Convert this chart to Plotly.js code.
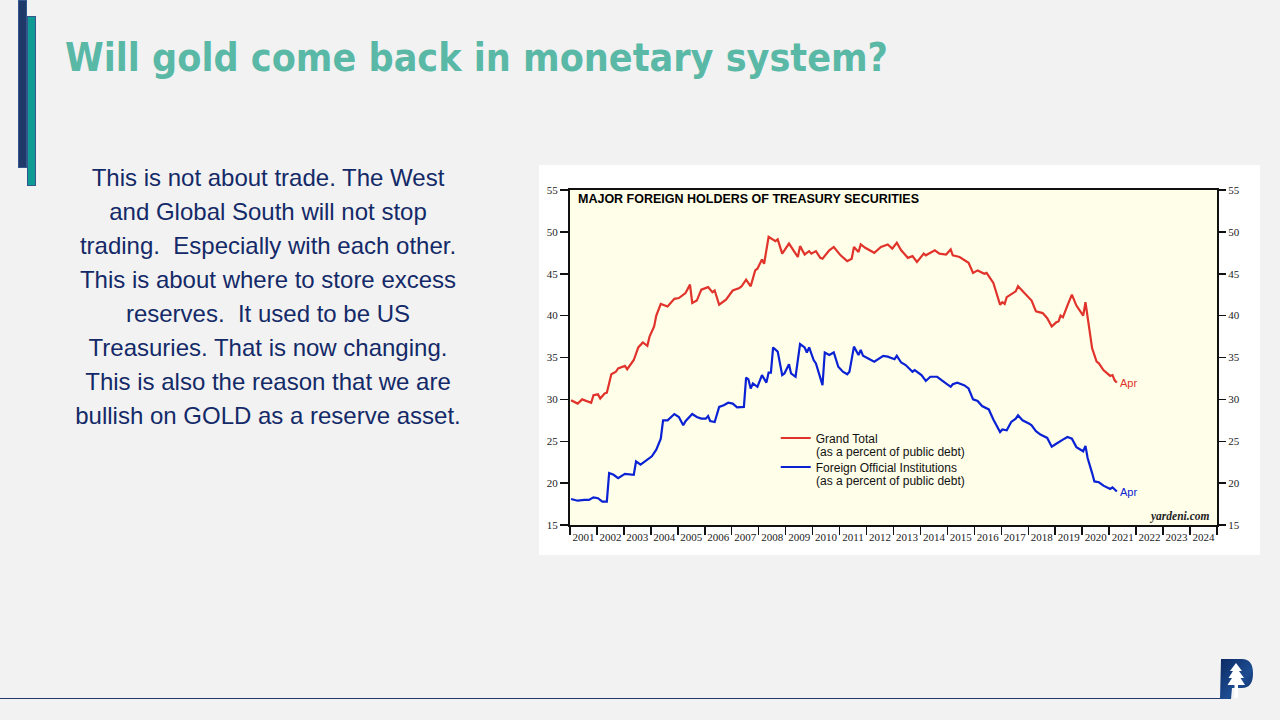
<!DOCTYPE html>
<html><head><meta charset="utf-8">
<script src="https://cdn.plot.ly/plotly-3.0.1.min.js"></script>
<style>
html,body{margin:0;padding:0;}
body{width:1280px;height:720px;background:#f2f2f2;position:relative;overflow:hidden;font-family:"Liberation Sans",Arial,sans-serif;}
#bar1{position:absolute;left:18px;top:0;width:7px;height:166px;background:#1f3a68;border:1px solid #34568e;}
#bar2{position:absolute;left:27px;top:16px;width:7px;height:168px;background:#0f9a93;border:1px solid #34568e;}
#title{position:absolute;left:65px;top:35px;font-family:"DejaVu Sans",sans-serif;font-weight:bold;font-size:39px;color:#5ab8a6;white-space:nowrap;transform-origin:0 0;}
#para{position:absolute;left:48px;width:440px;top:161px;text-align:center;font-size:24px;line-height:34px;color:#142a68;white-space:pre;}
#chart{position:absolute;left:539px;top:165px;width:721px;height:390px;background:#fff;}
#hr{position:absolute;left:0;top:698px;width:1222px;height:1px;background:#1f3a68;}
#logo{position:absolute;left:1218px;top:657px;}
</style></head>
<body>
<div id="bar1"></div><div id="bar2"></div>
<div id="title">Will gold come back in monetary system?</div>
<div id="para">This is not about trade. The West
and Global South will not stop
trading.  Especially with each other.
This is about where to store excess
reserves.  It used to be US
Treasuries. That is now changing.
This is also the reason that we are
bullish on GOLD as a reserve asset.</div>
<div id="chart"></div>
<div id="hr"></div>
<svg id="logo" width="40" height="44" viewBox="0 0 40 44">
<defs><linearGradient id="lg" x1="0" y1="0" x2="1" y2="1"><stop offset="0" stop-color="#0c2a63"/><stop offset="0.6" stop-color="#1d4c91"/><stop offset="1" stop-color="#0c2a63"/></linearGradient></defs>
<path d="M3,2 L24,2 Q35,2 35,16.5 Q35,31 24,31 L14,31 L13,42 L2,42 Z" fill="url(#lg)"/>
<path d="M18,6 L24,14 L21,14 L26,21 L22.5,21 L27,28 L20,28 L20,41 L16.5,41 L16.5,28 L9.5,28 L14,21 L10.5,21 L15,14 L12,14 Z" fill="#ffffff"/>
</svg>
<script>
// ---- data (percent of public debt) ----
const gtDates = ["2001-01","2001-04","2001-06","2001-10","2001-11","2002-01","2002-02","2002-04","2002-05","2002-07","2002-09","2002-10","2003-01","2003-02","2003-05","2003-07","2003-09","2003-11","2003-12","2004-02","2004-03","2004-05","2004-08","2004-11","2005-01","2005-04","2005-06","2005-07","2005-09","2005-11","2006-02","2006-04","2006-05","2006-07","2006-10","2007-01","2007-04","2007-05","2007-07","2007-09","2007-11","2007-12","2008-02","2008-03","2008-05","2008-08","2008-09","2008-11","2009-02","2009-06","2009-07","2009-09","2009-11","2009-12","2010-02","2010-04","2010-05","2010-08","2010-10","2011-01","2011-04","2011-06","2011-07","2011-09","2011-10","2011-12","2012-04","2012-07","2012-10","2012-12","2013-02","2013-04","2013-07","2013-09","2013-11","2014-02","2014-03","2014-06","2014-07","2014-09","2014-12","2015-02","2015-03","2015-06","2015-08","2015-10","2015-12","2016-02","2016-05","2016-06","2016-09","2016-12","2017-01","2017-02","2017-03","2017-07","2017-08","2017-10","2018-01","2018-02","2018-04","2018-07","2018-09","2018-11","2019-01","2019-02","2019-03","2019-04","2019-06","2019-08","2019-10","2020-01","2020-02","2020-04","2020-05","2020-07","2020-08","2020-10","2021-01","2021-02","2021-03","2021-04"];
const gtValues = [29.9,29.5,30.0,29.6,30.5,30.6,30.1,30.7,30.8,33.0,33.3,33.7,34.0,33.6,34.7,36.2,36.8,36.4,37.5,38.7,40.0,41.4,41.1,42.0,42.1,42.7,43.7,41.5,41.8,43.1,43.4,42.8,43.0,41.3,41.9,43.0,43.3,43.5,44.3,43.5,45.4,45.6,46.7,46.2,49.4,48.9,49.1,47.4,48.6,47.0,48.3,47.3,47.7,47.4,47.7,46.9,46.8,47.8,48.2,47.2,46.5,46.8,48.2,47.6,48.5,48.1,47.5,48.2,48.5,48.0,48.7,47.8,46.9,47.1,46.4,47.4,47.2,47.7,47.8,47.4,47.3,47.9,47.2,47.0,46.6,46.3,45.1,45.4,45.0,45.1,43.9,41.3,41.6,41.4,42.2,42.9,43.5,42.9,42.1,41.8,40.5,40.3,39.7,38.7,39.2,39.3,40.0,39.8,41.2,42.5,41.2,40.0,41.6,38.3,36.1,34.5,34.3,33.5,32.8,32.9,32.3,32.0];
const foDates = ["2001-01","2001-04","2001-07","2001-09","2001-11","2002-01","2002-03","2002-05","2002-06","2002-08","2002-10","2003-01","2003-05","2003-06","2003-08","2003-10","2004-01","2004-03","2004-04","2004-05","2004-06","2004-08","2004-11","2005-01","2005-03","2005-04","2005-07","2005-09","2005-11","2006-01","2006-02","2006-03","2006-05","2006-07","2006-09","2006-11","2007-01","2007-03","2007-06","2007-07","2007-08","2007-09","2007-10","2007-12","2008-02","2008-04","2008-05","2008-06","2008-07","2008-09","2008-11","2008-12","2009-02","2009-03","2009-05","2009-07","2009-09","2009-10","2009-11","2010-01","2010-02","2010-04","2010-05","2010-06","2010-08","2010-10","2010-12","2011-02","2011-04","2011-05","2011-07","2011-09","2011-10","2011-11","2012-01","2012-04","2012-08","2012-10","2013-01","2013-02","2013-04","2013-06","2013-09","2013-10","2014-01","2014-03","2014-05","2014-08","2014-11","2015-02","2015-03","2015-05","2015-08","2015-10","2015-12","2016-02","2016-04","2016-07","2016-09","2016-12","2017-01","2017-03","2017-05","2017-07","2017-08","2017-10","2018-01","2018-02","2018-04","2018-06","2018-09","2018-11","2019-01","2019-03","2019-04","2019-06","2019-08","2019-10","2020-01","2020-02","2020-03","2020-05","2020-06","2020-08","2020-10","2021-01","2021-02","2021-04"];
const foValues = [18.1,17.9,18.0,18.0,18.3,18.2,17.8,17.8,21.2,21.0,20.6,21.1,21.0,22.6,22.2,22.6,23.2,24.0,24.8,25.3,27.5,27.5,28.25,27.9,26.9,27.4,28.25,27.9,27.7,27.7,28.0,27.4,27.3,29.1,29.3,29.6,29.5,29.05,29.1,32.6,32.4,31.3,31.9,31.5,32.9,32.0,33.2,33.2,36.2,35.7,32.9,33.1,34.2,33.1,32.7,36.6,36.2,35.6,36.2,34.7,34.3,32.7,31.7,35.6,35.3,35.6,33.9,33.3,33.0,33.3,36.3,35.3,35.9,35.2,34.9,34.5,35.2,35.1,34.8,35.2,34.4,34.1,33.3,33.5,32.9,32.2,32.7,32.7,32.1,31.5,31.8,32.0,31.7,31.3,30.0,29.8,29.2,28.8,27.6,26.1,26.4,26.3,27.3,27.7,28.1,27.5,27.1,26.9,26.2,25.8,25.4,24.35,24.7,25.1,25.2,25.5,25.3,24.3,23.8,24.45,23.0,21.2,20.2,20.1,19.7,19.3,19.5,19.0];
const yTicks = [15,20,25,30,35,40,45,50,55];
const seriesNames = ["Grand Total","Foreign Official Institutions"];
const seriesNote = "(as a percent of public debt)";
const chartTitle = "MAJOR FOREIGN HOLDERS OF TREASURY SECURITIES";
const lastLabel = "Apr";
const sourceLabel = "yardeni.com";

const RED = "#e0332b", BLUE = "#0a22d4";
const mid = d => d + "-15";
const gtX = gtDates.map(mid), foX = foDates.map(mid);
const serif = "Liberation Serif, Times New Roman, serif";
const sans = "Liberation Sans, Arial, sans-serif";

const traces = [
  {x: gtX, y: gtValues, type: "scatter", mode: "lines", name: seriesNames[0], legendgroup: "a",
   line: {color: RED, width: 2.2}, hoverinfo: "skip"},
  {x: foX, y: foValues, type: "scatter", mode: "lines", name: seriesNames[1], legendgroup: "b",
   line: {color: BLUE, width: 2.2}, hoverinfo: "skip"},
  {x: gtX, y: gtValues, type: "scatter", mode: "lines", yaxis: "y2", showlegend: false,
   opacity: 0, line: {width: 0}, hoverinfo: "skip"}
];

const tickFont = {family: serif, size: 11, color: "#222"};
const layout = {
  width: 721, height: 390,
  margin: {l: 31, r: 43, t: 25, b: 30, pad: 0},
  paper_bgcolor: "#ffffff", plot_bgcolor: "#fffee9",
  showlegend: true,
  legend: {x: 0.318, y: 0.303, xanchor: "left", yanchor: "top", bgcolor: "rgba(0,0,0,0)",
           font: {family: sans, size: 12, color: "#111"}, tracegroupgap: 10, borderwidth: 0},
  xaxis: {type: "date", range: ["2001-01-01", "2025-01-01"], dtick: "M12", tick0: "2001-01-01",
          tickformat: "%Y", ticklabelmode: "period", ticks: "outside", ticklen: 8, tickwidth: 1.5,
          tickcolor: "#111", ticklabelstandoff: -7, showgrid: false, zeroline: false,
          showline: true, linecolor: "#111", linewidth: 2, mirror: true, tickfont: tickFont, fixedrange: true},
  yaxis: {range: [15, 55], tickvals: yTicks, ticks: "outside", ticklen: 8, tickwidth: 1.5, tickcolor: "#111",
          showgrid: false, zeroline: false, showline: true, linecolor: "#111", linewidth: 2, mirror: true,
          tickfont: tickFont, fixedrange: true},
  yaxis2: {overlaying: "y", side: "right", range: [15, 55], tickvals: yTicks, ticks: "outside", ticklen: 8,
           tickwidth: 1.5, tickcolor: "#111", showgrid: false, zeroline: false, showline: false,
           tickfont: tickFont, fixedrange: true},
  annotations: [
    {xref: "paper", yref: "paper", x: 0.009, y: 0.973, xanchor: "left", yanchor: "middle", showarrow: false,
     text: "<b>" + chartTitle + "</b>", font: {family: sans, size: 12.5, color: "#000"}},
    {xref: "paper", yref: "paper", x: 0.377, y: 0.218, xanchor: "left", yanchor: "middle", showarrow: false,
     text: seriesNote, font: {family: sans, size: 12, color: "#111"}},
    {xref: "paper", yref: "paper", x: 0.377, y: 0.131, xanchor: "left", yanchor: "middle", showarrow: false,
     text: seriesNote, font: {family: sans, size: 12, color: "#111"}},
    {x: gtX[gtX.length - 1], y: gtValues[gtValues.length - 1], xanchor: "left", yanchor: "middle",
     xshift: 1, showarrow: false, text: lastLabel, font: {family: sans, size: 11, color: RED}},
    {x: foX[foX.length - 1], y: foValues[foValues.length - 1], xanchor: "left", yanchor: "middle",
     xshift: 1, showarrow: false, text: lastLabel, font: {family: sans, size: 11, color: BLUE}},
    {xref: "paper", yref: "paper", x: 0.993, y: 0.024, xanchor: "right", yanchor: "middle", showarrow: false,
     text: "<b><i>" + sourceLabel + "</i></b>", font: {family: serif, size: 11.5, color: "#222"}}
  ]
};
Plotly.newPlot("chart", traces, layout, {displayModeBar: false, staticPlot: true});

function fitTitle() {
  const t = document.getElementById("title");
  t.style.transform = "none";
  const w = t.getBoundingClientRect().width;
  if (w > 0) t.style.transform = "scaleX(" + (823 / w) + ")";
}
if (document.fonts && document.fonts.ready) document.fonts.ready.then(fitTitle); else fitTitle();
fitTitle();
</script>
</body></html>
